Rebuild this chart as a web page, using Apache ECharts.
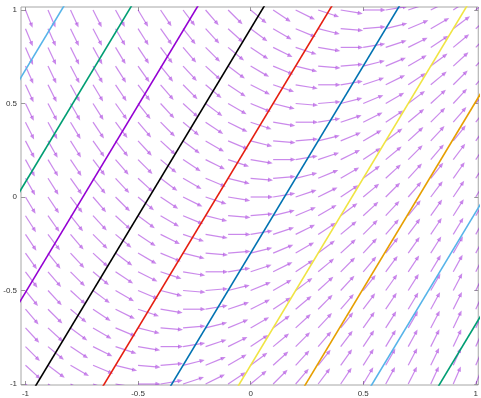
<!DOCTYPE html>
<html>
<head>
<meta charset="utf-8">
<script src="https://cdn.jsdelivr.net/npm/echarts@6/dist/echarts.min.js"></script>
<style>
html,body{margin:0;padding:0;background:#fff;}
#chart{width:481px;height:398px;}
</style>
</head>
<body>
<div id="chart"></div>
<script>
// Tick labels
const xTicks = [-1, -0.5, 0, 0.5, 1];
const yTicks = [-1, -0.5, 0, 0.5, 1];

// Arrow grid positions
const gridX = [-1, -0.9, -0.8, -0.7, -0.6, -0.5, -0.4, -0.3, -0.2, -0.1, 0, 0.1, 0.2, 0.3, 0.4, 0.5, 0.6, 0.7, 0.8, 0.9, 1];
const gridY = [1, 0.9, 0.8, 0.7, 0.6, 0.5, 0.4, 0.3, 0.2, 0.1, 0, -0.1, -0.2, -0.3, -0.4, -0.5, -0.6, -0.7, -0.8, -0.9, -1];

// Arrow slopes (dy/dx) per row (gridY) and column (gridX)
const slopes = [
  [-3.0,-2.8,-2.6,-2.4,-2.2,-2.0,-1.8,-1.6,-1.4,-1.2,-1.0,-0.8,-0.6,-0.4,-0.2,0.0,0.2,0.4,0.6,0.8,1.0],
  [-2.9,-2.7,-2.5,-2.3,-2.1,-1.9,-1.7,-1.5,-1.3,-1.1,-0.9,-0.7,-0.5,-0.3,-0.1,0.1,0.3,0.5,0.7,0.9,1.1],
  [-2.8,-2.6,-2.4,-2.2,-2.0,-1.8,-1.6,-1.4,-1.2,-1.0,-0.8,-0.6,-0.4,-0.2,0.0,0.2,0.4,0.6,0.8,1.0,1.2],
  [-2.7,-2.5,-2.3,-2.1,-1.9,-1.7,-1.5,-1.3,-1.1,-0.9,-0.7,-0.5,-0.3,-0.1,0.1,0.3,0.5,0.7,0.9,1.1,1.3],
  [-2.6,-2.4,-2.2,-2.0,-1.8,-1.6,-1.4,-1.2,-1.0,-0.8,-0.6,-0.4,-0.2,0.0,0.2,0.4,0.6,0.8,1.0,1.2,1.4],
  [-2.5,-2.3,-2.1,-1.9,-1.7,-1.5,-1.3,-1.1,-0.9,-0.7,-0.5,-0.3,-0.1,0.1,0.3,0.5,0.7,0.9,1.1,1.3,1.5],
  [-2.4,-2.2,-2.0,-1.8,-1.6,-1.4,-1.2,-1.0,-0.8,-0.6,-0.4,-0.2,0.0,0.2,0.4,0.6,0.8,1.0,1.2,1.4,1.6],
  [-2.3,-2.1,-1.9,-1.7,-1.5,-1.3,-1.1,-0.9,-0.7,-0.5,-0.3,-0.1,0.1,0.3,0.5,0.7,0.9,1.1,1.3,1.5,1.7],
  [-2.2,-2.0,-1.8,-1.6,-1.4,-1.2,-1.0,-0.8,-0.6,-0.4,-0.2,0.0,0.2,0.4,0.6,0.8,1.0,1.2,1.4,1.6,1.8],
  [-2.1,-1.9,-1.7,-1.5,-1.3,-1.1,-0.9,-0.7,-0.5,-0.3,-0.1,0.1,0.3,0.5,0.7,0.9,1.1,1.3,1.5,1.7,1.9],
  [-2.0,-1.8,-1.6,-1.4,-1.2,-1.0,-0.8,-0.6,-0.4,-0.2,0.0,0.2,0.4,0.6,0.8,1.0,1.2,1.4,1.6,1.8,2.0],
  [-1.9,-1.7,-1.5,-1.3,-1.1,-0.9,-0.7,-0.5,-0.3,-0.1,0.1,0.3,0.5,0.7,0.9,1.1,1.3,1.5,1.7,1.9,2.1],
  [-1.8,-1.6,-1.4,-1.2,-1.0,-0.8,-0.6,-0.4,-0.2,0.0,0.2,0.4,0.6,0.8,1.0,1.2,1.4,1.6,1.8,2.0,2.2],
  [-1.7,-1.5,-1.3,-1.1,-0.9,-0.7,-0.5,-0.3,-0.1,0.1,0.3,0.5,0.7,0.9,1.1,1.3,1.5,1.7,1.9,2.1,2.3],
  [-1.6,-1.4,-1.2,-1.0,-0.8,-0.6,-0.4,-0.2,0.0,0.2,0.4,0.6,0.8,1.0,1.2,1.4,1.6,1.8,2.0,2.2,2.4],
  [-1.5,-1.3,-1.1,-0.9,-0.7,-0.5,-0.3,-0.1,0.1,0.3,0.5,0.7,0.9,1.1,1.3,1.5,1.7,1.9,2.1,2.3,2.5],
  [-1.4,-1.2,-1.0,-0.8,-0.6,-0.4,-0.2,0.0,0.2,0.4,0.6,0.8,1.0,1.2,1.4,1.6,1.8,2.0,2.2,2.4,2.6],
  [-1.3,-1.1,-0.9,-0.7,-0.5,-0.3,-0.1,0.1,0.3,0.5,0.7,0.9,1.1,1.3,1.5,1.7,1.9,2.1,2.3,2.5,2.7],
  [-1.2,-1.0,-0.8,-0.6,-0.4,-0.2,0.0,0.2,0.4,0.6,0.8,1.0,1.2,1.4,1.6,1.8,2.0,2.2,2.4,2.6,2.8],
  [-1.1,-0.9,-0.7,-0.5,-0.3,-0.1,0.1,0.3,0.5,0.7,0.9,1.1,1.3,1.5,1.7,1.9,2.1,2.3,2.5,2.7,2.9],
  [-1.0,-0.8,-0.6,-0.4,-0.2,0.0,0.2,0.4,0.6,0.8,1.0,1.2,1.4,1.6,1.8,2.0,2.2,2.4,2.6,2.8,3.0]
];
const arrowLength = 0.1; // data units

// Straight lines: x at y = -1.1 and x at y = 1.1
const lineYBottom = -1.1;
const lineYTop = 1.1;
const lineXBottom = [-1.89, -1.59, -1.295, -1.0, -0.70, -0.40, -0.10, 0.195, 0.49, 0.79];
const lineXTop    = [-0.79, -0.49, -0.195, 0.10, 0.40, 0.70, 1.00, 1.295, 1.59, 1.89];
const lineColors  = ['#56b4e9', '#009e73', '#9400d3', '#000000', '#e51e10', '#0072b2', '#f0e442', '#e69f00', '#56b4e9', '#009e73'];

const arrowData = [];
for (let j = 0; j < gridY.length; j++) {
  for (let i = 0; i < gridX.length; i++) {
    arrowData.push([gridX[i], gridY[j], slopes[j][i]]);
  }
}

const arrowColor = 'rgba(150,20,215,0.5)';

function renderArrow(params, api) {
  const x = api.value(0), y = api.value(1), f = api.value(2);
  const n = Math.sqrt(1 + f * f);
  const dx = arrowLength / n, dy = f * arrowLength / n;
  const p0 = api.coord([x, y]);
  const p1 = api.coord([x + dx, y + dy]);
  const a = Math.atan2(p1[1] - p0[1], p1[0] - p0[0]);
  const h = 5.5, w = 0.4;
  const l = [p1[0] - h * Math.cos(a - w), p1[1] - h * Math.sin(a - w)];
  const r = [p1[0] - h * Math.cos(a + w), p1[1] - h * Math.sin(a + w)];
  const m = [p1[0] - h * 0.8 * Math.cos(a), p1[1] - h * 0.8 * Math.sin(a)];
  return {
    type: 'group',
    children: [
      { type: 'line', shape: { x1: p0[0], y1: p0[1], x2: m[0], y2: m[1] },
        style: { stroke: arrowColor, lineWidth: 1.2 } },
      { type: 'polygon', shape: { points: [l, p1, r] },
        style: { fill: arrowColor } }
    ]
  };
}

const series = [{
  type: 'custom',
  renderItem: renderArrow,
  data: arrowData,
  clip: true,
  silent: true,
  z: 2
}];
for (let k = 0; k < lineXBottom.length; k++) {
  series.push({
    type: 'line',
    data: [[lineXBottom[k], lineYBottom], [lineXTop[k], lineYTop]],
    showSymbol: false,
    symbol: 'none',
    clip: true,
    silent: true,
    lineStyle: { color: lineColors[k], width: 1.6 },
    z: 3
  });
}

const labelStyle = { fontFamily: 'Liberation Sans, Arial, sans-serif', fontSize: 8, color: '#333' };
const tickStyle = { show: true, inside: true, length: 4, lineStyle: { color: '#999', width: 1 } };

const chart = echarts.init(document.getElementById('chart'), null, { renderer: 'canvas' });
chart.setOption({
  animation: false,
  backgroundColor: '#fff',
  grid: { left: 21, right: 1, top: 7, bottom: 13, show: true, borderColor: '#a6a6a6', borderWidth: 1, backgroundColor: 'transparent' },
  xAxis: [{
    type: 'value', min: -1.0199, max: 1.011, position: 'bottom',
    axisLine: { show: false, onZero: false },
    axisTick: Object.assign({}, tickStyle, { customValues: xTicks }),
    axisLabel: Object.assign({}, labelStyle, { customValues: xTicks, margin: 5, formatter: v => String(v) }),
    splitLine: { show: false }
  }, {
    type: 'value', min: -1.0199, max: 1.011, position: 'top',
    axisLine: { show: false, onZero: false },
    axisTick: Object.assign({}, tickStyle, { customValues: xTicks }),
    axisLabel: { show: false },
    splitLine: { show: false }
  }],
  yAxis: [{
    type: 'value', min: -1.0053, max: 1.016, position: 'left',
    axisLine: { show: false, onZero: false },
    axisTick: Object.assign({}, tickStyle, { customValues: yTicks }),
    axisLabel: Object.assign({}, labelStyle, { customValues: yTicks, margin: 4, formatter: v => String(v) }),
    splitLine: { show: false }
  }, {
    type: 'value', min: -1.0053, max: 1.016, position: 'right',
    axisLine: { show: false, onZero: false },
    axisTick: Object.assign({}, tickStyle, { customValues: yTicks }),
    axisLabel: { show: false },
    splitLine: { show: false }
  }],
  series: series
});
</script>
</body>
</html>
